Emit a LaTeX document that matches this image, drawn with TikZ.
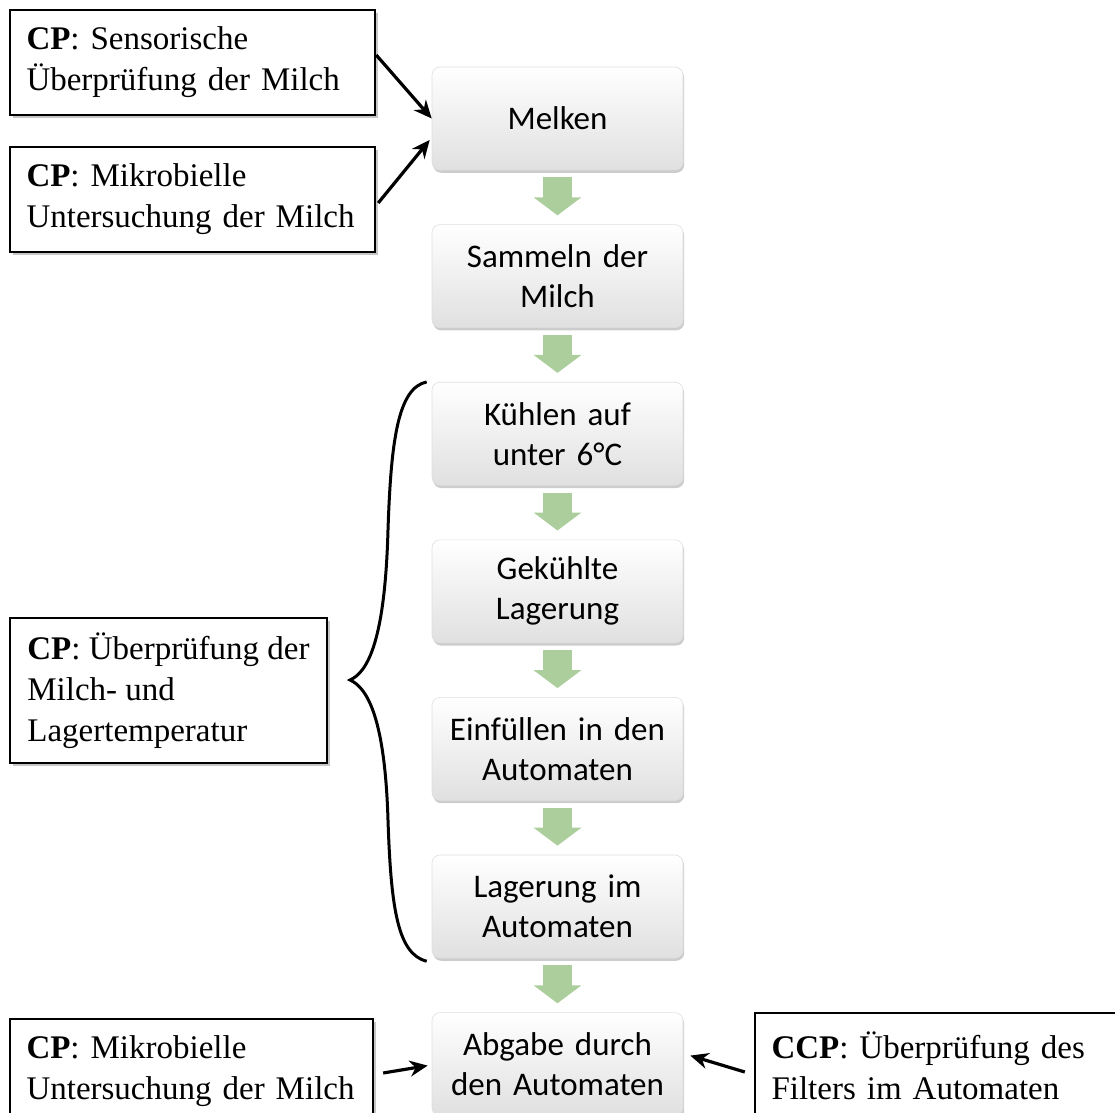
\documentclass[tikz,border=0pt]{standalone}
\usepackage{fontspec}
\setmainfont{Liberation Serif}
\newfontfamily\stepfont{Carlito}
\usetikzlibrary{positioning,shadows,arrows.meta}

\definecolor{flowgreen}{RGB}{172,206,156}
\definecolor{stepgray}{RGB}{224,224,224}

\tikzset{
    stepbox/.style={rectangle, rounded corners=4pt, draw=gray!25, line width=0.3pt,
        top color=white, bottom color=stepgray,
        minimum width=125.5pt, minimum height=51.5pt, text width=118pt, align=center,
        drop shadow={shadow xshift=0.6pt, shadow yshift=-1.4pt, opacity=0.4},
        font=\stepfont\fontsize{16.5}{20}\selectfont},
    cpbox/.style={rectangle, draw, line width=1.2pt, fill=white, align=left,
        inner xsep=8.25pt, inner ysep=0pt,
        drop shadow={shadow xshift=1.5pt, shadow yshift=-1.5pt, opacity=0.45},
        font=\fontsize{16.5}{20.5}\selectfont},
    flow/.style={line width=14.5pt, flowgreen, -{Triangle[width=23.5pt, length=9pt]},
        shorten <=3.5pt, shorten >=4.5pt},
    cparrow/.style={line width=1.6pt, -{Stealth[length=9pt, width=8pt]}},
}

\begin{document}
\begin{tikzpicture}[x=0.5pt, y=-0.5pt]
    \useasboundingbox (0,0) rectangle (1115,1113);
    \clip (0,0) rectangle (1115,1113);

    % process steps
    \node[stepbox] (melken) at (557.5,118.5) {Melken};
    \node[stepbox, below=27pt of melken] (sammeln) {Sammeln der\\Milch};
    \node[stepbox, below=27pt of sammeln] (kuehlen) {Kühlen auf\\unter 6°C};
    \node[stepbox, below=27pt of kuehlen] (gekuehlt) {Gekühlte\\Lagerung};
    \node[stepbox, below=27pt of gekuehlt] (einfuellen) {Einfüllen in den\\Automaten};
    \node[stepbox, below=27pt of einfuellen] (lagerung) {Lagerung im\\Automaten};
    \node[stepbox, below=27pt of lagerung] (abgabe) {Abgabe durch\\den Automaten};

    % control points
    \node[cpbox, text width=166pt, minimum height=52.5pt] (cp_sensorik) at (192.5,62.5)
        {\textbf{CP}: Sensorische\\Überprüfung der Milch};
    \node[cpbox, text width=166pt, minimum height=52.5pt] (cp_mikro_top) at (192.5,199.5)
        {\textbf{CP}: Mikrobielle\\Untersuchung der Milch};
    \node[cpbox, inner xsep=0pt, minimum width=158.5pt, minimum height=72.5pt] (cp_temp) at (168.5,690.5)
        {\textbf{CP}: Überprüfung der\\Milch- und\\Lagertemperatur};
    \node[cpbox, text width=165pt, minimum height=52.5pt] (cp_mikro_bottom) at (191.5,1071.5)
        {\textbf{CP}: Mikrobielle\\Untersuchung der Milch};
    \node[cpbox, text width=168.5pt, minimum height=52.5pt] (ccp_filter) at (940,1065.5)
        {\textbf{CCP}: Überprüfung des\\Filters im Automaten};

    \draw[flow] (melken.south) -- (sammeln.north) ;
    \draw[flow] (sammeln.south) -- (kuehlen.north) ;
    \draw[flow] (kuehlen.south) -- (gekuehlt.north) ;
    \draw[flow] (gekuehlt.south) -- (einfuellen.north) ;
    \draw[flow] (einfuellen.south) -- (lagerung.north) ;
    \draw[flow] (lagerung.south) -- (abgabe.north) ;

    \draw[cparrow] ([yshift=3.75pt]cp_sensorik.east) -- (melken.west) ;
    \draw[cparrow] ([xshift=1pt, yshift=-1.75pt]cp_mikro_top.east) -- ([xshift=-1pt, yshift=-10.75pt]melken.west) ;
    \draw[cparrow] ([xshift=4.5pt, yshift=-0.75pt]cp_mikro_bottom.east) -- ([xshift=-2pt, yshift=-0.75pt]abgabe.west) ;
    \draw[cparrow] ([xshift=-4.5pt, yshift=-3.25pt]ccp_filter.west) -- ([xshift=3.5pt, yshift=4.25pt]abgabe.east) ;

    % brace
    \coordinate (brace_tip) at (350,680) ;
    \draw[line width=1.5pt] ([xshift=-2.5pt, yshift=0pt]kuehlen.north west)
        .. controls (398,388) and (391,440) .. (388,530)
        .. controls (385,640) and (368,672) .. (brace_tip)
        .. controls (368,688) and (385,720) .. (388,820)
        .. controls (391,910) and (398,954) .. ([xshift=-2.5pt, yshift=-1.5pt]lagerung.south west) ;

\end{tikzpicture}
\end{document}
